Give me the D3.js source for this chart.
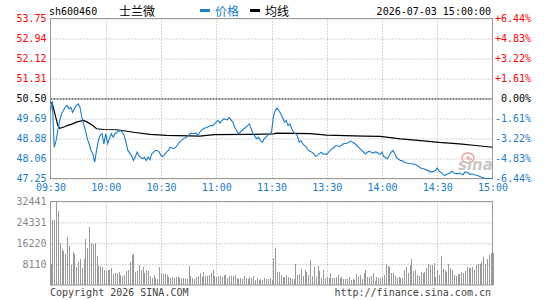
<!DOCTYPE html>
<html>
<head>
<meta charset="utf-8">
<script src="https://cdn.jsdelivr.net/npm/d3@7"></script>
<style>
  body { margin: 0; background: #fff; }
  text { font-family: "DejaVu Sans Mono", monospace; font-size: 10px; }
  .cjk { font-family: "Noto Sans CJK SC", sans-serif; font-size: 12px; }
</style>
</head>
<body>
<div class="chart"></div>
<script>
const width = 545
const height = 300

const code = "sh600460"
const stockName = "士兰微"
const stamp = "2026-07-03 15:00:00"
const prevClose = 50.50

const timeTicks = [0, 30, 60, 90, 120, 150, 180, 210, 240]
const timeLabels = ["09:30", "10:00", "10:30", "11:00", "11:30", "13:30", "14:00", "14:30", "15:00"]
const priceTicks = [53.75, 52.94, 52.12, 51.31, 50.50, 49.69, 48.88, 48.06, 47.25]
const pctLabels = ["+6.44%", "+4.83%", "+3.22%", "+1.61%", "0.00%", "-1.61%", "-3.22%", "-4.83%", "-6.44%"]
const volTicks = [32441, 24331, 16220, 8110]

// minutes after 09:30 (lunch break removed)
const priceTimes = [0,1,2,3,4,5,6,7,8,9,10,11,12,13,14,15,16,17,18,19,20,21,22,23,24,25,26,27,28,29,30,31,32,33,34,35,36,38,39,40,41,42,44,45,46,47,48,50,51,52,53,54,55,57,58,59,60,61,63,64,65,67,68,70,71,72,74,75,76,77,79,80,81,83,85,87,88,90,91,92,94,96,97,99,100,102,103,105,107,108,109,110,112,113,114,115,116,118,119,120,121,122,123,124,125,126,127,128,129,130,131,132,134,135,136,137,139,140,142,143,144,146,147,148,150,151,153,154,155,157,158,159,161,162,163,165,166,168,169,171,172,173,175,176,177,179,180,181,183,184,185,186,187,188,190,191,192,194,196,198,200,201,203,205,207,209,210,211,213,214,215,217,218,219,221,222,224,225,226,228,229,230,232,233,235,236,240]
const prices = [50.00,50.39,48.52,48.79,49.20,49.61,49.88,50.01,50.15,50.22,50.08,50.15,49.94,50.08,50.22,50.28,50.15,49.74,49.47,49.20,48.86,48.66,48.39,48.25,47.91,48.39,48.79,49.00,49.07,48.66,49.07,48.66,48.86,49.07,48.93,49.07,49.13,49.20,49.13,49.00,48.72,48.39,48.18,47.98,48.12,48.32,48.18,48.05,48.12,47.98,48.12,48.01,48.25,48.39,48.39,48.32,48.18,48.14,48.32,48.39,48.52,48.46,48.52,48.72,48.79,48.86,48.93,49.00,49.09,49.07,49.09,49.00,49.13,49.27,49.33,49.40,49.40,49.54,49.61,49.50,49.67,49.63,49.72,49.54,49.33,49.07,49.13,49.27,49.40,49.47,49.27,49.07,48.86,48.93,48.79,48.72,48.86,49.00,49.07,49.13,49.74,50.01,50.11,50.01,49.88,49.74,49.54,49.61,49.40,49.47,49.27,49.13,49.00,48.72,48.79,48.66,48.52,48.39,48.32,48.25,48.14,48.25,48.32,48.25,48.23,48.32,48.46,48.52,48.59,48.55,48.59,48.66,48.68,48.72,48.77,48.68,48.62,48.46,48.39,48.25,48.32,48.36,48.28,48.32,48.32,48.23,48.32,48.14,48.05,48.18,48.32,48.39,48.25,48.09,47.98,47.98,47.91,47.87,47.85,47.82,47.74,47.68,47.64,47.57,47.51,47.57,47.68,47.55,47.44,47.37,47.41,47.47,47.55,47.47,47.44,47.47,47.40,47.51,47.51,47.41,47.44,47.40,47.37,47.33,47.28,47.25,47.25]

const avgTimes = [0,1,4,5,7,9,12,14,18,20,23,25,29,36,45,54,63,81,89,107,121,123,141,150,170,179,190,204,211,222,231,240]
const avgPrices = [50.35,50.28,49.40,49.29,49.33,49.40,49.47,49.54,49.61,49.54,49.40,49.27,49.24,49.23,49.13,49.04,49.00,48.97,49.03,49.04,49.06,49.09,49.07,49.01,48.97,48.96,48.86,48.77,48.72,48.66,48.59,48.52]

// one bar per minute, 09:30 .. 11:30 then 13:01 .. 15:00
const volMorning = [8100,25100,25100,32441,28600,16500,13900,13300,12000,18600,
  15200,7800,13000,12100,7150,9100,10150,6500,10150,17850,
  14300,22400,16300,15900,16500,11300,7400,7400,6900,5800,
  5400,5800,6000,6500,4200,4550,4550,5200,3900,3500,3900,
  5500,5800,9100,11700,12000,5200,5500,7800,5800,6900,
  4800,5800,5500,3500,2600,3900,2600,2200,6900,4550,4300,
  4300,3900,3000,2600,3000,2600,3000,3500,2600,2600,
  2900,2600,2200,7400,3500,2600,2200,3000,3500,4550,3250,
  5200,3500,3500,3900,4550,5800,3500,3000,3500,3500,
  3200,3900,3900,2600,3500,3500,3500,3900,2600,2200,2600,
  2400,3500,2600,2200,3000,2600,3500,1900,2600,1900,2200,
  2100,2600,2200,2300,2600,1900]
const volAfternoon = [10400,14300,5200,5200,3900,3000,3250,3900,3000,2600,
  2200,2400,8100,3900,4300,6200,3500,5800,5200,3900,9800,
  3500,6900,3000,7400,5500,2600,5800,2600,3000,2800,4800,
  2600,2600,3000,3900,2600,3000,2200,2200,2200,3000,
  1900,2400,1900,4300,3000,3900,2200,4550,6000,3000,3000,
  3500,4550,1650,3000,2600,2600,3200,3900,8100,7400,6900,
  4800,4800,3500,2600,3000,2600,2600,5800,6900,4800,
  7800,10150,5500,5800,3900,3500,5200,4600,5200,6500,8100,
  7800,7800,8400,3000,6000,3900,11300,6200,6000,5200,8100,
  6500,6000,3900,3500,4300,4400,5200,4800,5600,6900,6500,6500,
  6900,6000,7800,8100,8100,9000,10800,8100,10150,11800,12600,12600]
const volumes = volMorning.concat(volAfternoon)

const blue = "#1a7dcc"
const red = "#ff0000"
const gridColor = "#aaa"
const frameColor = "#999"

const svg = d3.select(".chart").append("svg")
    .attr("width", width)
    .attr("height", height)

const xScale = d3.scaleLinear().domain([0, 240]).range([50.5, 492.5])
const yScale = d3.scaleLinear().domain([47.25, 53.75]).range([178.5, 18.5])
const vScale = d3.scaleLinear().domain([0, 32441]).range([285, 201.5])

// price panel grid + labels
const priceColor = v => v > prevClose ? red : (v < prevClose ? blue : "#000")

svg.append("g")
    .attr("transform", "translate(50.5,0)")
    .call(d3.axisLeft(yScale).tickValues(priceTicks).tickFormat(d3.format(".2f"))
        .tickSizeInner(-442).tickSizeOuter(0).tickPadding(4))
    .call(g => g.select(".domain").remove())
    .call(g => g.selectAll(".tick line")
        .attr("stroke", d => d === prevClose ? "#000" : gridColor)
        .attr("stroke-dasharray", d => d === prevClose ? "2,1" : "1,2"))
    .call(g => g.selectAll(".tick text")
        .attr("fill", priceColor)
        .style("font-family", "DejaVu Sans Mono")
        .style("font-size", "10px"))

svg.append("g")
    .attr("transform", "translate(531,0)")
    .call(d3.axisLeft(yScale).tickValues(priceTicks)
        .tickFormat((d, i) => pctLabels[i]).tickSize(0).tickPadding(0))
    .call(g => g.select(".domain").remove())
    .call(g => g.selectAll(".tick text")
        .attr("fill", priceColor)
        .style("font-family", "DejaVu Sans Mono")
        .style("font-size", "10px"))

const vGrid = (y0, y1) => svg.append("g")
    .selectAll("line")
    .data(timeTicks.slice(1, -1))
    .enter().append("line")
    .attr("x1", d => Math.round(xScale(d)) + 0.5)
    .attr("x2", d => Math.round(xScale(d)) + 0.5)
    .attr("y1", y0).attr("y2", y1)
    .attr("stroke", gridColor)
    .attr("stroke-dasharray", "1,2")

vGrid(18.5, 178.5)
vGrid(201.5, 285)

svg.append("g")
    .attr("transform", "translate(0,191)")
    .call(d3.axisBottom(xScale).tickValues(timeTicks)
        .tickFormat((d, i) => timeLabels[i]).tickSize(0).tickPadding(0))
    .call(g => g.select(".domain").remove())
    .call(g => g.selectAll(".tick text")
        .attr("fill", blue)
        .attr("dy", 0)
        .style("font-family", "DejaVu Sans Mono")
        .style("font-size", "10px"))

// volume panel grid + labels
svg.append("g")
    .attr("transform", "translate(50.5,0)")
    .call(d3.axisLeft(vScale).tickValues(volTicks).tickFormat(d => d)
        .tickSizeInner(-442).tickSizeOuter(0).tickPadding(4))
    .call(g => g.select(".domain").remove())
    .call(g => g.selectAll(".tick line")
        .attr("stroke", gridColor)
        .attr("stroke-dasharray", "1,2"))
    .call(g => g.selectAll(".tick text")
        .attr("fill", "#888")
        .style("font-family", "DejaVu Sans Mono")
        .style("font-size", "10px"))

// volume bars
svg.append("g")
    .selectAll("rect")
    .data(volumes)
    .enter().append("rect")
    .attr("x", (d, i) => Math.round(xScale(i)))
    .attr("y", d => Math.round(vScale(d)))
    .attr("width", 1)
    .attr("height", d => 285 - Math.round(vScale(d)))
    .attr("fill", "#999")

// frames
svg.append("rect").attr("x", 50.5).attr("y", 18.5).attr("width", 442).attr("height", 160)
    .attr("fill", "none").attr("stroke", frameColor)
svg.append("rect").attr("x", 50.5).attr("y", 201.5).attr("width", 442).attr("height", 83.5)
    .attr("fill", "none").attr("stroke", frameColor)

// watermark
const wm = svg.append("g").attr("transform", "translate(458,170)")
wm.append("ellipse").attr("cx", 10).attr("cy", -12).attr("rx", 6).attr("ry", 5)
    .attr("fill", "none").attr("stroke", "#f3b0b0").attr("stroke-width", 2)
wm.append("circle").attr("cx", 10).attr("cy", -12).attr("r", 2).attr("fill", "#f3b0b0")
wm.append("text").attr("x", 0).attr("y", 0)
    .style("font-family", "DejaVu Sans").style("font-size", "15px")
    .style("font-style", "italic").style("font-weight", "bold")
    .attr("fill", "#c8c8c8").text("sina")

// lines
const avgData = avgTimes.map((t, i) => [t, avgPrices[i]])
const priceData = priceTimes.map((t, i) => [t, prices[i]])
const line = d3.line().x(d => xScale(d[0])).y(d => yScale(d[1]))

svg.append("path").datum(avgData)
    .attr("d", line).attr("fill", "none").attr("stroke", "#000").attr("stroke-width", 1.2)
svg.append("path").datum(priceData)
    .attr("d", line).attr("fill", "none").attr("stroke", blue).attr("stroke-width", 1.1)

// header
svg.append("text").attr("x", 49).attr("y", 15).attr("fill", "#000").text(code)
svg.append("text").attr("class", "cjk").attr("x", 119).attr("y", 16).attr("fill", "#000").text(stockName)
svg.append("rect").attr("x", 200).attr("y", 9).attr("width", 10).attr("height", 3).attr("fill", blue)
svg.append("text").attr("class", "cjk").attr("x", 215).attr("y", 16).attr("fill", blue).text("价格")
svg.append("rect").attr("x", 250).attr("y", 9).attr("width", 10).attr("height", 3).attr("fill", "#000")
svg.append("text").attr("class", "cjk").attr("x", 265).attr("y", 16).attr("fill", "#000").text("均线")
svg.append("text").attr("x", 491).attr("y", 15).attr("text-anchor", "end").attr("fill", "#000").text(stamp)

// footer
svg.append("text").attr("x", 50).attr("y", 296).attr("fill", "#444").text("Copyright 2026 SINA.COM")
svg.append("text").attr("x", 491).attr("y", 296).attr("text-anchor", "end").attr("fill", "#444").text("http://finance.sina.com.cn")
</script>
</body>
</html>
